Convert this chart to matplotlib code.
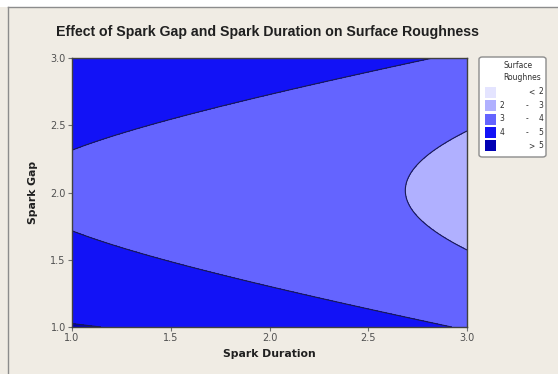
import numpy as np
import matplotlib.pyplot as plt
from matplotlib.patches import Rectangle, FancyBboxPatch

# Fitted response surface: roughness = f(duration) + g(duration) * (gap - gap_center)^2
gap_center = 2.015
f_coef = [3.899, -0.385, -0.0875]   # f(d) = c0 + c1*(d-1) + c2*(d-1)^2
g_coef = [1.124, 0.003]             # g(d) = k0 + k1*(d-1)

levels = [0, 2, 3, 4, 5, 10]
level_labels = [("", "<", "2"), ("2", "-", "3"), ("3", "-", "4"), ("4", "-", "5"), ("", ">", "5")]
fill_colors = ["#E4E4FF", "#B0B0FF", "#6464FF", "#1212F6", "#0000B4"]

x_ticks = [1.0, 1.5, 2.0, 2.5, 3.0]
y_ticks = [1.0, 1.5, 2.0, 2.5, 3.0]

bg = "#F0ECE4"

duration = np.linspace(1.0, 3.0, 400)
gap = np.linspace(1.0, 3.0, 400)
D, G = np.meshgrid(duration, gap)
fD = f_coef[0] + f_coef[1] * (D - 1) + f_coef[2] * (D - 1) ** 2
gD = g_coef[0] + g_coef[1] * (D - 1)
Z = fD + gD * (G - gap_center) ** 2

fig = plt.figure(figsize=(5.58, 3.74), dpi=100)
fig.patch.set_facecolor(bg)

W, H = 558, 374

# white strip and panel border at the top-left
fig.patches.append(Rectangle((0, 1 - 7 / H), 1, 7 / H, transform=fig.transFigure,
                             facecolor="white", edgecolor="none", zorder=0))
fig.lines.append(plt.Line2D([8 / W, 8 / W], [0, 1 - 7 / H], transform=fig.transFigure,
                            color="#8C8C8C", lw=1.0))
fig.lines.append(plt.Line2D([8 / W, 1], [1 - 7 / H, 1 - 7 / H], transform=fig.transFigure,
                            color="#8C8C8C", lw=1.0))

ax = fig.add_axes([72 / W, 1 - 327 / H, (467 - 72) / W, (327 - 58) / H])
ax.contourf(D, G, Z, levels=levels, colors=fill_colors)
ax.contour(D, G, Z, levels=levels[1:-1], colors="#1A1A50", linewidths=0.8)

ax.set_xlim(1, 3)
ax.set_ylim(1, 3)
ax.set_xticks(x_ticks)
ax.set_yticks(y_ticks)
ax.set_xticklabels([f"{t:.1f}" for t in x_ticks])
ax.set_yticklabels([f"{t:.1f}" for t in y_ticks])
ax.tick_params(direction="out", length=3, width=0.8, color="#707070",
               labelsize=7, labelcolor="#505050", pad=1.5)
for sp in ax.spines.values():
    sp.set_color("#404040")
    sp.set_linewidth(1.0)

ax.set_xlabel("Spark Duration", fontsize=7.8, fontweight="bold", color="#202020", labelpad=4)
ax.set_ylabel("Spark Gap", fontsize=7.8, fontweight="bold", color="#202020", labelpad=9)

fig.text(268 / W, 1 - 32 / H, "Effect of Spark Gap and Spark Duration on Surface Roughness",
         ha="center", va="center", fontsize=10.2, fontweight="bold", color="#202020",
         family="Liberation Sans")

# legend box
lg_x0, lg_x1, lg_y0, lg_y1 = 479, 546, 57, 157
fig.patches.append(FancyBboxPatch((lg_x0 / W, 1 - lg_y1 / H), (lg_x1 - lg_x0) / W,
                                  (lg_y1 - lg_y0) / H, boxstyle="round,pad=0,rounding_size=0.006",
                                  transform=fig.transFigure, facecolor="white",
                                  edgecolor="#8C8C8C", lw=1.0))
fig.text(518 / W, 1 - 65 / H, "Surface", ha="center", va="center", fontsize=5.5, color="#303030")
fig.text(522 / W, 1 - 78 / H, "Roughnes", ha="center", va="center", fontsize=5.5, color="#303030")
row_y = [92, 105.5, 119, 132.5, 146]
for (lo, sep, hi), col, yy in zip(level_labels, fill_colors, row_y):
    fig.patches.append(Rectangle((485 / W, 1 - (yy + 5.5) / H), 11 / W, 11 / H,
                                 transform=fig.transFigure, facecolor=col, edgecolor="none"))
    sep_x = 527 if sep == "-" else 531
    fig.text(502 / W, 1 - yy / H, lo, ha="center", va="center", fontsize=5.5, color="#303030")
    fig.text(sep_x / W, 1 - yy / H, sep, ha="center", va="center", fontsize=5.5, color="#303030")
    fig.text(541 / W, 1 - yy / H, hi, ha="center", va="center", fontsize=5.5, color="#303030")

fig.savefig("out.png", dpi=100, facecolor=fig.get_facecolor())
